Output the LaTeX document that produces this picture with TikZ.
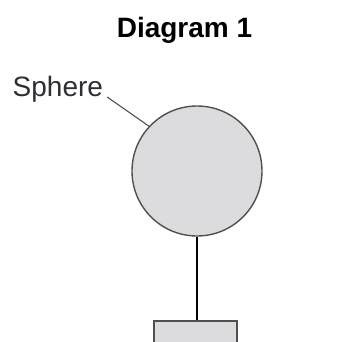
\documentclass[tikz,border=0pt]{standalone}
\usepackage{fontspec}
\setmainfont{Liberation Sans}
\definecolor{fillgray}{HTML}{DCDCDE}
\definecolor{edgegray}{HTML}{505050}
\definecolor{labelgray}{HTML}{2E2E33}
\begin{document}
\begin{tikzpicture}[x=1pt,y=-1pt,
  shapebox/.style={draw=edgegray,fill=fillgray,line width=1.4pt},
  labeltext/.style={inner sep=0pt,font=\fontsize{28}{30}\selectfont}]
\useasboundingbox (0,0) rectangle (364,342);
\node[labeltext,anchor=base,font=\fontsize{28}{30}\selectfont\bfseries] (title) at (184.5,38) {Diagram 1};
\node[labeltext,anchor=base west,text=labelgray] (sphere) at (12.5,97) {Sphere};
\node[shapebox,circle,minimum size=130pt,inner sep=0pt] (ball) at (197,171) {};
\node[shapebox,rectangle,minimum width=83pt,minimum height=44pt,inner sep=0pt] (box) at (195.5,343) {};
\draw[edgegray,line width=1.1pt] ([xshift=4pt]sphere.base east) -- (ball.137);
\draw[black,line width=1.2pt] (ball.south) -- (ball.south |- box.north);
\end{tikzpicture}
\end{document}
